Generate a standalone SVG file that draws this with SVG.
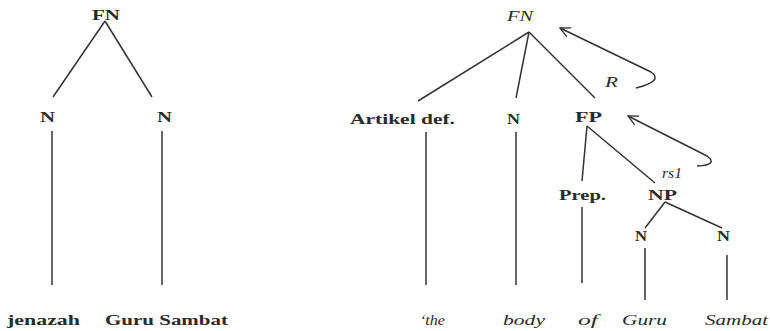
<svg xmlns="http://www.w3.org/2000/svg" width="770" height="331" viewBox="0 0 770 331">
<defs>
<marker id="ah" markerWidth="12" markerHeight="12" refX="11" refY="6" orient="auto-start-reverse" markerUnits="userSpaceOnUse">
<path d="M1,1 L11,6 L1,11" fill="none" stroke="#333" stroke-width="1.3"/>
</marker>
<style>
text{font-family:"Liberation Serif","Times New Roman",serif;font-size:15px;fill:#2a2a2a}
.b{font-weight:bold}
.i{font-style:italic}
.ln line,.ln path{stroke:#333;stroke-width:1.5;fill:none}
</style>
</defs>
<rect width="770" height="331" fill="#fff"/>
<g id="connectors" class="ln">
<line x1="105" y1="21" x2="53" y2="97"/>
<line x1="105" y1="21" x2="152" y2="97"/>
<line x1="52" y1="131" x2="52" y2="285"/>
<line x1="162" y1="131" x2="162" y2="285"/>
<line x1="529" y1="32" x2="418" y2="101"/>
<line x1="529" y1="32" x2="516" y2="98"/>
<line x1="529" y1="32" x2="595" y2="98"/>
<line x1="426" y1="132" x2="426" y2="285"/>
<line x1="516" y1="132" x2="516" y2="285"/>
<line x1="587" y1="126" x2="582" y2="181"/>
<line x1="582" y1="207" x2="582" y2="283"/>
<line x1="587" y1="126" x2="655" y2="183"/>
<line x1="665" y1="202" x2="645" y2="228"/>
<line x1="665" y1="202" x2="722" y2="228"/>
<line x1="645" y1="248" x2="645" y2="300"/>
<line x1="727" y1="255" x2="727" y2="300"/>
<path d="M560,28 L651,72 Q664,81 636,88" marker-start="url(#ah)"/>
<path d="M628,116 L707,156 Q719,165 697,166" marker-start="url(#ah)"/>
</g>
<g id="fn-left"><text class="b" x="92" y="20" textLength="28" lengthAdjust="spacingAndGlyphs">FN</text></g>
<g id="n-left1"><text class="b" x="40" y="122" textLength="15" lengthAdjust="spacingAndGlyphs">N</text></g>
<g id="n-left2"><text class="b" x="157" y="122" textLength="15" lengthAdjust="spacingAndGlyphs">N</text></g>
<g id="w-jenazah"><text class="b" x="7" y="325" textLength="73" lengthAdjust="spacingAndGlyphs">jenazah</text></g>
<g id="w-gurusambat"><text class="b" x="105" y="325" textLength="123" lengthAdjust="spacingAndGlyphs">Guru Sambat</text></g>
<g id="fn-right"><text class="i" x="507" y="21" textLength="26" lengthAdjust="spacingAndGlyphs">FN</text></g>
<g id="lbl-r"><text class="i" x="605" y="87" textLength="13" lengthAdjust="spacingAndGlyphs">R</text></g>
<g id="artikel"><text class="b" x="350" y="124" textLength="105" lengthAdjust="spacingAndGlyphs">Artikel def.</text></g>
<g id="n-right"><text class="b" x="507" y="124" textLength="13" lengthAdjust="spacingAndGlyphs">N</text></g>
<g id="fp"><text class="b" x="575" y="122" textLength="27" lengthAdjust="spacingAndGlyphs">FP</text></g>
<g id="lbl-rs1"><text class="i" x="662" y="178" textLength="20" lengthAdjust="spacingAndGlyphs">rs1</text></g>
<g id="prep"><text class="b" x="559" y="200" textLength="47" lengthAdjust="spacingAndGlyphs">Prep.</text></g>
<g id="np"><text class="b" x="648" y="200" textLength="29" lengthAdjust="spacingAndGlyphs">NP</text></g>
<g id="n-np1"><text class="b" x="635" y="241" textLength="12" lengthAdjust="spacingAndGlyphs">N</text></g>
<g id="n-np2"><text class="b" x="717" y="241" textLength="13" lengthAdjust="spacingAndGlyphs">N</text></g>
<g id="w-the"><text class="i" x="420" y="325" textLength="25" lengthAdjust="spacingAndGlyphs">‘the</text></g>
<g id="w-body"><text class="i" x="503" y="325" textLength="42" lengthAdjust="spacingAndGlyphs">body</text></g>
<g id="w-of"><text class="i" x="578" y="325" textLength="20" lengthAdjust="spacingAndGlyphs">of</text></g>
<g id="w-guru"><text class="i" x="622" y="325" textLength="45" lengthAdjust="spacingAndGlyphs">Guru</text></g>
<g id="w-sambat"><text class="i" x="705" y="325" textLength="63" lengthAdjust="spacingAndGlyphs">Sambat</text></g>
</svg>
